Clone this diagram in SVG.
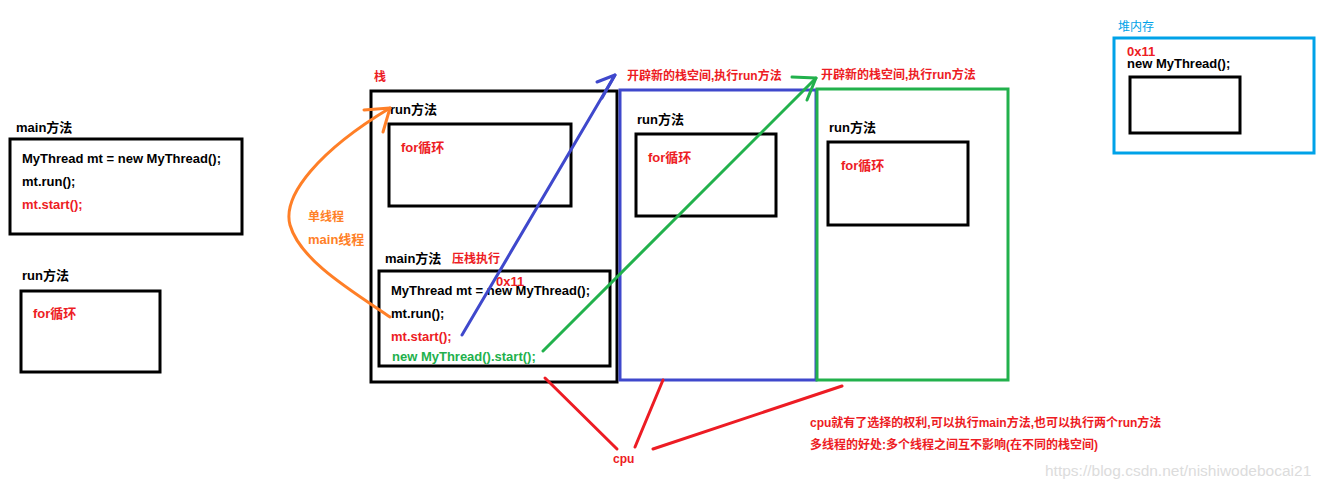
<svg xmlns="http://www.w3.org/2000/svg" width="1326" height="487" viewBox="0 0 1326 487">
<style>
text{font-family:"Liberation Sans","Noto Sans CJK SC",sans-serif;font-weight:bold;font-size:13px;fill:#000}
.r{fill:#ED1C24}
.g{fill:#22B14C}
.o{fill:#FF7F27}
.lb{fill:#00A2E8;font-weight:normal}
.s12{font-size:12px}
.box{fill:none;stroke:#000;stroke-width:3}
.ln{fill:none;stroke-width:3;stroke-linecap:round;stroke-linejoin:round}
.wm{fill:#dcdcdc;font-weight:normal;font-size:15.5px}
</style>
<rect width="1326" height="487" fill="#fff"/>

<g id="main-left">
<text x="16" y="132">main方法</text>
<rect class="box" x="10" y="139" width="232" height="95"/>
<text x="22" y="163">MyThread mt = new MyThread();</text>
<text x="22" y="186">mt.run();</text>
<text class="r" x="22" y="209">mt.start();</text>
</g>

<g id="run-left">
<text x="22" y="280">run方法</text>
<rect class="box" x="21" y="291" width="139" height="81"/>
<text class="r" x="33" y="318">for循环</text>
</g>

<g id="stack-main">
<text class="r s12" x="374" y="81">栈</text>
<rect class="box" x="371" y="91" width="246" height="291"/>
<text x="390" y="114">run方法</text>
<rect class="box" x="389" y="124" width="182" height="82"/>
<text class="r" x="401" y="152">for循环</text>
<text x="385" y="263">main方法</text>
<text class="r s12" x="452" y="263">压栈执行</text>
<rect class="box" x="379" y="271" width="231" height="95"/>
<text class="r" x="496" y="286">0x11</text>
<text x="391" y="295">MyThread mt = new MyThread();</text>
<text x="391" y="318">mt.run();</text>
<text class="r" x="391" y="341">mt.start();</text>
<text class="g" x="392" y="361">new MyThread().start();</text>
<text class="o s12" x="308" y="221">单线程</text>
<text class="o" x="308" y="244">main线程</text>
</g>

<g id="stack-blue">
<text class="r s12" x="627" y="80">开辟新的栈空间,执行run方法</text>
<rect fill="none" stroke="#3F48CC" stroke-width="3" x="620" y="90" width="196" height="290"/>
<text x="637" y="124">run方法</text>
<rect class="box" x="636" y="134" width="140" height="82"/>
<text class="r" x="648" y="162">for循环</text>
</g>

<g id="stack-green">
<text class="r s12" x="821" y="79">开辟新的栈空间,执行run方法</text>
<rect fill="none" stroke="#22B14C" stroke-width="3" x="817" y="89" width="191" height="291"/>
<text x="829" y="132">run方法</text>
<rect class="box" x="828" y="142" width="140" height="83"/>
<text class="r" x="841" y="170">for循环</text>
</g>

<g id="heap">
<text class="lb s12" x="1118" y="31">堆内存</text>
<rect fill="none" stroke="#00A2E8" stroke-width="3" x="1114" y="38" width="200" height="115"/>
<text class="r" x="1127" y="56">0x11</text>
<text x="1127" y="68">new MyThread();</text>
<rect class="box" x="1130" y="77" width="110" height="56"/>
</g>

<g id="cpu">
<text class="r s12" x="613" y="463">cpu</text>
<text class="r s12" x="810" y="427">cpu就有了选择的权利,可以执行main方法,也可以执行两个run方法</text>
<text class="r s12" x="810" y="449">多线程的好处:多个线程之间互不影响(在不同的栈空间)</text>
</g>

<g id="connectors">
<path class="ln" stroke="#FF7F27" d="M390,317 C350,290 300,260 290,225 C282,195 320,150 390,108"/>
<path class="ln" stroke="#FF7F27" d="M364,110 L390,108 L383,132"/>
<path class="ln" stroke="#3F48CC" d="M462,335 L615,75"/>
<path class="ln" stroke="#3F48CC" d="M597,82 L615,75 L602,98"/>
<path class="ln" stroke="#22B14C" d="M543,351 L816,78"/>
<path class="ln" stroke="#22B14C" d="M792,77 L816,78 L807,100"/>
<path class="ln" stroke="#ED1C24" d="M545,378 L617,449"/>
<path class="ln" stroke="#ED1C24" d="M663,380 L635,447"/>
<path class="ln" stroke="#ED1C24" d="M842,386 L653,449"/>
</g>

<text class="wm" x="1045" y="476">https://blog.csdn.net/nishiwodebocai21</text>
</svg>
